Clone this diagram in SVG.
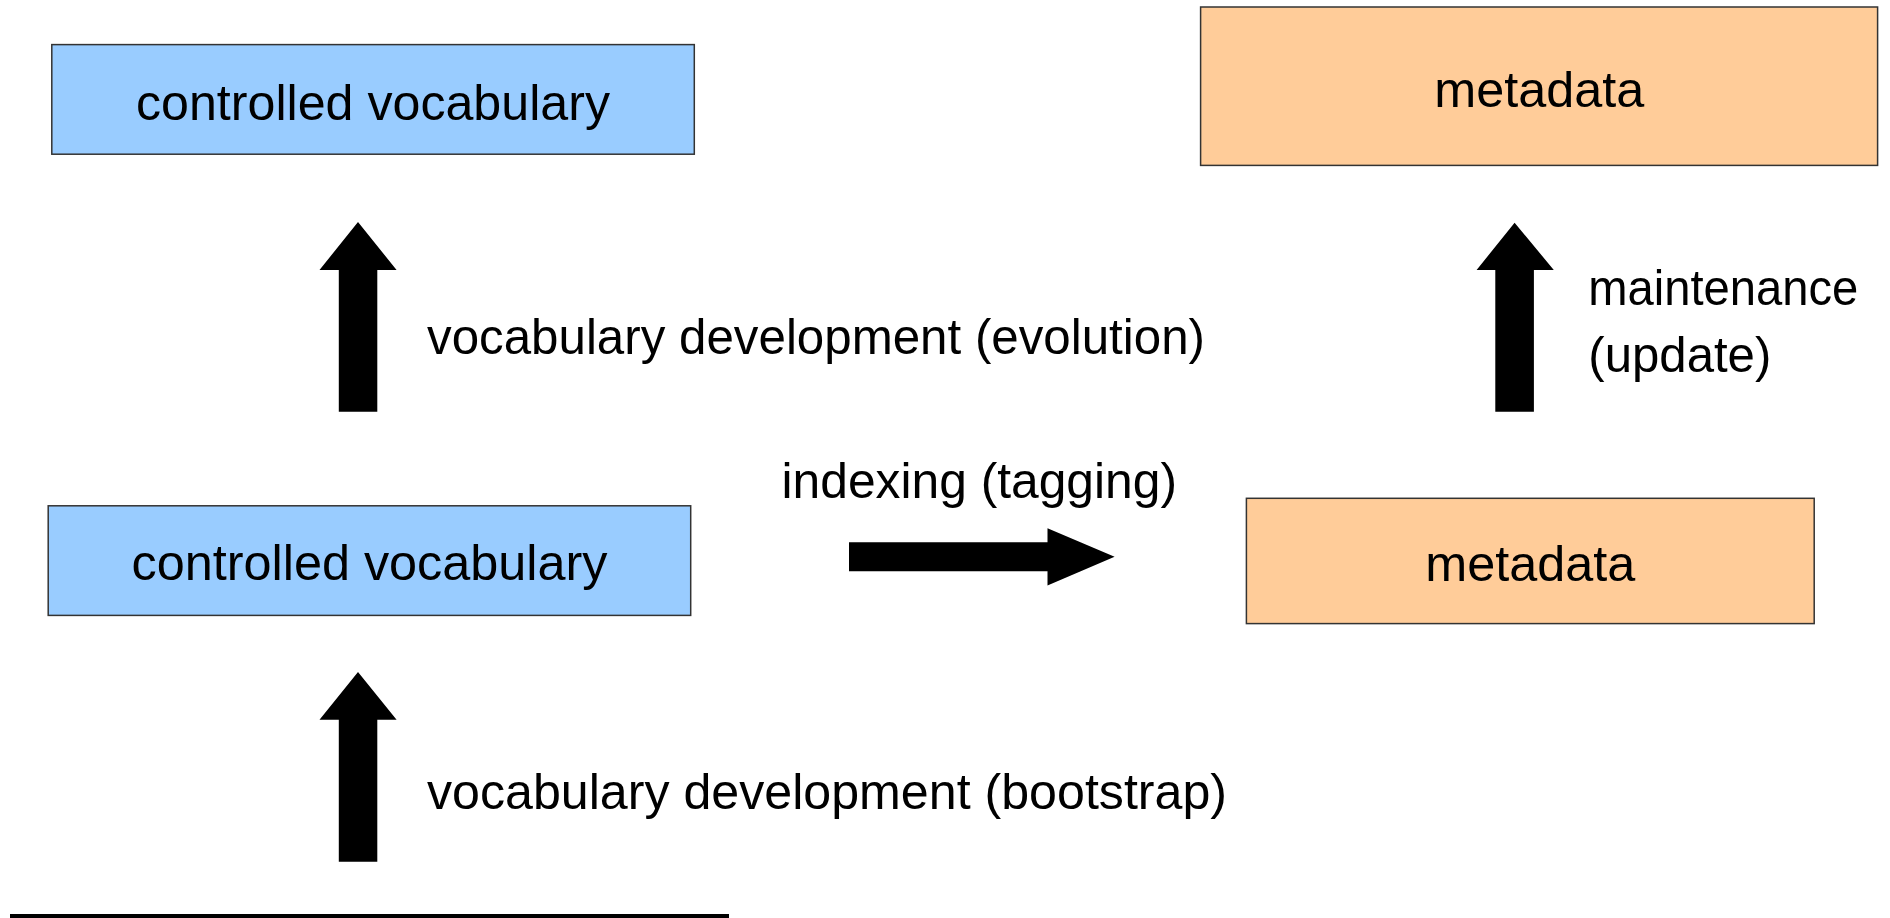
<svg xmlns="http://www.w3.org/2000/svg" width="1890" height="918" viewBox="0 0 1890 918">
<style>
  .vocab { fill: #99ccff; stroke: #333333; stroke-width: 1.5; }
  .meta { fill: #ffcc99; stroke: #333333; stroke-width: 1.5; }
  .t { font-family: "Liberation Sans", Arial, sans-serif; font-size: 50px; fill: #000000; }
  .c { text-anchor: middle; }
  .arrow { fill: #000000; stroke: none; }
</style>
<rect width="1890" height="918" fill="#ffffff"/>
<g id="vocab-top">
  <rect class="vocab" x="51.8" y="44.6" width="642.5" height="109.6"/>
  <text class="t c" x="373" y="119.5" textLength="474" lengthAdjust="spacingAndGlyphs">controlled vocabulary</text>
</g>
<g id="meta-top">
  <rect class="meta" x="1200.6" y="7" width="677" height="158.4"/>
  <text class="t c" x="1539.3" y="106.5" textLength="210" lengthAdjust="spacingAndGlyphs">metadata</text>
</g>
<g id="vocab-bottom">
  <rect class="vocab" x="48.2" y="505.8" width="642.5" height="109.6"/>
  <text class="t c" x="369.5" y="580" textLength="476" lengthAdjust="spacingAndGlyphs">controlled vocabulary</text>
</g>
<g id="meta-bottom">
  <rect class="meta" x="1246.4" y="498.3" width="567.8" height="125.3"/>
  <text class="t c" x="1530.3" y="580.5" textLength="210" lengthAdjust="spacingAndGlyphs">metadata</text>
</g>
<g id="baseline">
  <rect x="10" y="914" width="719" height="4" fill="#000000"/>
</g>
<g id="connectors">
  <polygon class="arrow" points="358,222 396.6,270 377.3,270 377.3,411.7 338.8,411.7 338.8,270 319.5,270"/>
  <polygon class="arrow" points="358,672 396.6,719.7 377.3,719.7 377.3,861.7 338.8,861.7 338.8,719.7 319.5,719.7"/>
  <polygon class="arrow" points="1514.6,222.7 1553.8,270 1533.9,270 1533.9,411.7 1495.3,411.7 1495.3,270 1476.6,270"/>
  <polygon class="arrow" points="849,542.3 1047.5,542.3 1047.5,528.3 1114.6,556.8 1047.5,585.5 1047.5,571.3 849,571.3"/>
  <text class="t" x="427" y="354" textLength="778" lengthAdjust="spacingAndGlyphs">vocabulary development (evolution)</text>
  <text class="t" x="427" y="809" textLength="800" lengthAdjust="spacingAndGlyphs">vocabulary development (bootstrap)</text>
  <text class="t" x="781.5" y="498" textLength="395.5" lengthAdjust="spacingAndGlyphs">indexing (tagging)</text>
  <text class="t" x="1588.3" y="305" textLength="270" lengthAdjust="spacingAndGlyphs">maintenance</text>
  <text class="t" x="1588.3" y="371.5" textLength="183" lengthAdjust="spacingAndGlyphs">(update)</text>
</g>
</svg>
